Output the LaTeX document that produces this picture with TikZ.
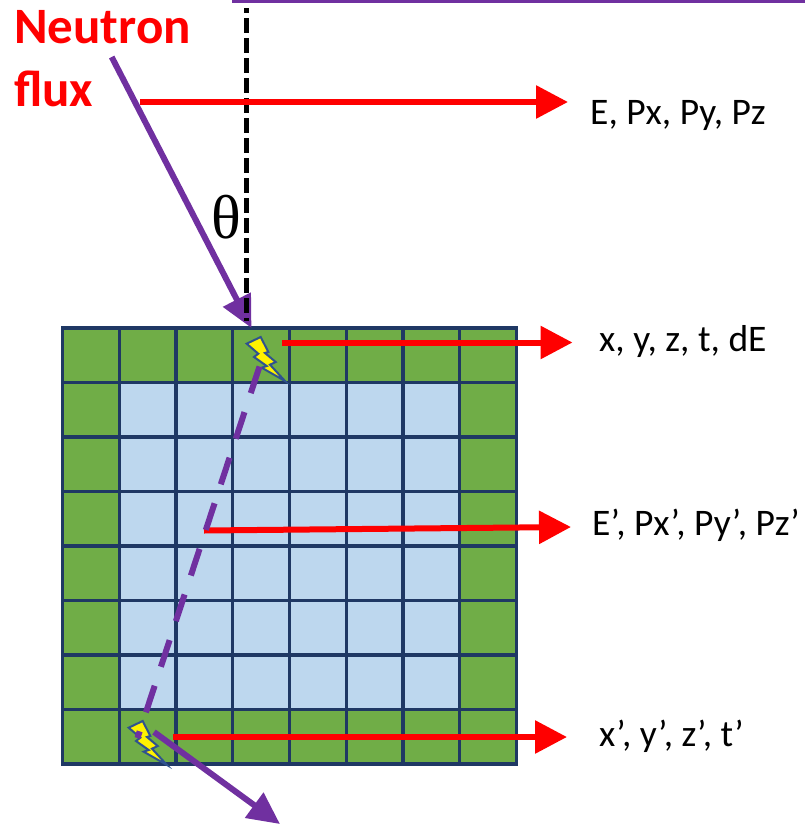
\documentclass[tikz,border=0pt]{standalone}
\usepackage{fontspec}
\setmainfont{Carlito}
\newfontfamily\thetafont{Liberation Serif}
\usetikzlibrary{arrows.meta}
\definecolor{nflux}{HTML}{7030A0}
\definecolor{cellgreen}{HTML}{70AD47}
\definecolor{cellblue}{HTML}{BDD7EE}
\definecolor{cellline}{HTML}{1F3864}
\definecolor{boltline}{HTML}{2F528F}
\tikzset{
  cellbox/.style={draw=cellline,line width=3.2pt,inner sep=0pt,outer sep=0pt,minimum width=56.75pt,minimum height=54.5pt},
  greencell/.style={cellbox,fill=cellgreen},
  bluecell/.style={cellbox,fill=cellblue},
  redarrow/.style={draw=red,line width=6pt,-{Triangle[length=32pt,width=32pt,fill=red]}},
  purplearrow/.style={draw=nflux,line width=6pt,-{Triangle[length=32pt,width=30pt,fill=nflux]}},
  particletrack/.style={draw=nflux,line width=6pt,dash pattern=on 28pt off 20pt},
  axisline/.style={draw=black,line width=5pt,dash pattern=on 15pt off 5pt,dash phase=10pt},
  readout/.style={anchor=base west,font=\fontsize{37.5}{44}\selectfont,inner sep=0pt,text=black},
  fluxlabel/.style={anchor=north west,align=left,text=red,inner sep=0pt,font=\fontsize{51}{63}\selectfont\bfseries},
  boltshape/.pic={
    \draw[fill=yellow,draw=boltline,line width=2pt,line join=miter]
      (-38.3,-37.3) -- (-24.3,-44) -- (-16.7,-29) -- (-20,-28) -- (-9.3,-19) -- (-15,-16.3) -- (0,0)
      -- (-23.3,-13.3) -- (-18.3,-15) -- (-31,-24) -- (-26.7,-27.3) -- cycle;
  }
}
\begin{document}
\begin{tikzpicture}[x=1pt,y=-1pt]
\useasboundingbox (0,0) rectangle (805,825);
% detector cells
\foreach \i in {0,...,7}{
  \foreach \j in {0,...,7}{
    \pgfmathtruncatemacro{\edge}{(\i==0)||(\i==7)||(\j==0)||(\j==7)}
    \pgfmathsetmacro{\cx}{62.5+56.75*\i+28.375}
    \pgfmathsetmacro{\cy}{328+54.5*\j+27.25}
    \ifnum\edge=1
      \node[greencell] (c-\i-\j) at (\cx,\cy) {};
    \else
      \node[bluecell] (c-\i-\j) at (\cx,\cy) {};
    \fi
  }
}
% free ends of the connectors
\coordinate (topA) at (232,1.5);
\coordinate (topB) at (805,1.5);
\coordinate (axisA) at (246.5,8);
\coordinate (axisB) at (246.5,321);
\coordinate (fluxA) at (111.7,57);
\coordinate (fluxB) at (251.5,328);
\coordinate (beamA) at (140,102);
\coordinate (beamB) at (568,102);
\coordinate (hitA) at (282,342.5);
\coordinate (hitB) at (572.5,342.5);
\coordinate (recoA) at (204,530.5);
\coordinate (recoB) at (571,527);
\coordinate (exitA) at (173,737);
\coordinate (exitB) at (567,737);
\coordinate (trackA) at (259.5,366.5);
\coordinate (trackB) at (137.5,738);
\coordinate (outA) at (154,732);
\coordinate (outB) at (280,824);
% lines
\draw[draw=nflux,line width=3pt] (topA) -- (topB);
\draw[purplearrow] (fluxA) -- (fluxB);
\draw[axisline] (axisA) -- (axisB);
\draw[redarrow] (beamA) -- (beamB);
\pic at (285,381) {boltshape};
\pic at (167,765) {boltshape};
\draw[redarrow] (hitA) -- (hitB);
\draw[redarrow] (recoA) -- (recoB);
\draw[redarrow] (exitA) -- (exitB);
\draw[particletrack] (trackA) -- (trackB);
\draw[purplearrow] (outA) -- (outB);
% labels
\node[fluxlabel] (flux) at (14,10) {Neutron\\flux};
\node[anchor=base west,inner sep=0pt,font=\fontsize{62}{70}\selectfont\thetafont] (theta) at (211,238) {θ};
\node[readout] (l1) at (590,124) {E, Px, Py, Pz};
\node[readout] (l2) at (599,351) {x, y, z, t, dE};
\node[readout] (l3) at (592,535) {E’, Px’, Py’, Pz’};
\node[readout] (l4) at (599,746) {x’, y’, z’, t’};
\end{tikzpicture}
\end{document}
